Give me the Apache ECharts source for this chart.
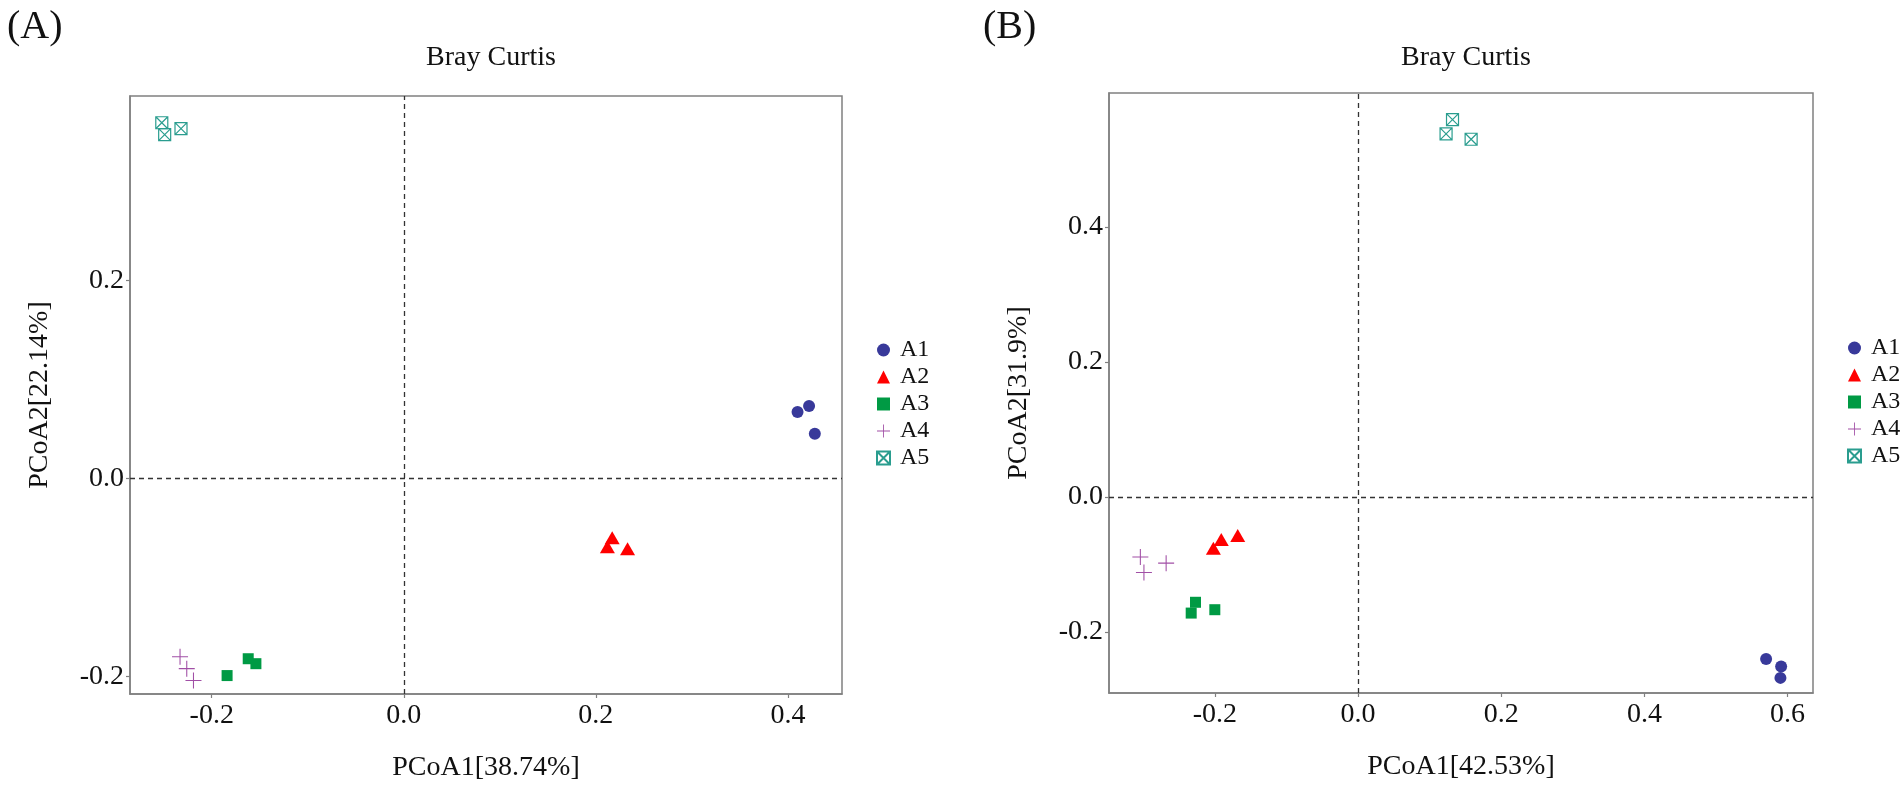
<!DOCTYPE html>
<html>
<head>
<meta charset="utf-8">
<script src="https://cdn.jsdelivr.net/npm/echarts@6.0.0/dist/echarts.min.js"></script>
<style>
  html, body { margin: 0; padding: 0; background: #fff; }
  #chart { width: 1902px; height: 790px; }
</style>
</head>
<body>
<div id="chart"></div>
<script>
// groups and values
var groups = ["A1", "A2", "A3", "A4", "A5"];

// panel (A): [PCoA1, PCoA2]
var a_A1 = [[0.410, 0.067], [0.422, 0.073], [0.428, 0.045]];
var a_A2 = [[0.217, -0.060], [0.212, -0.069], [0.233, -0.071]];
var a_A3 = [[-0.184, -0.199], [-0.162, -0.182], [-0.154, -0.187]];
var a_A4 = [[-0.233, -0.180], [-0.226, -0.192], [-0.219, -0.204]];
var a_A5 = [[-0.252, 0.359], [-0.249, 0.347], [-0.232, 0.353]];

// panel (B)
var b_A1 = [[0.570, -0.240], [0.591, -0.251], [0.590, -0.268]];
var b_A2 = [[-0.202, -0.076], [-0.191, -0.063], [-0.168, -0.057]];
var b_A3 = [[-0.233, -0.172], [-0.227, -0.156], [-0.200, -0.167]];
var b_A4 = [[-0.304, -0.089], [-0.299, -0.112], [-0.268, -0.098]];
var b_A5 = [[0.132, 0.559], [0.123, 0.538], [0.158, 0.530]];

var a_xTicks = [-0.2, 0.0, 0.2, 0.4];
var a_yTicks = [-0.2, 0.0, 0.2];
var b_xTicks = [-0.2, 0.0, 0.2, 0.4, 0.6];
var b_yTicks = [-0.2, 0.0, 0.2, 0.4];

var a_xName = "PCoA1[38.74%]";
var a_yName = "PCoA2[22.14%]";
var b_xName = "PCoA1[42.53%]";
var b_yName = "PCoA2[31.9%]";

var FONT = "Liberation Serif";
var AXIS_GRAY = "#808080";

var styles = {
  A1: { symbol: "circle", size: 12, color: "#38399A" },
  A2: { symbol: "triangle", size: [15, 13], color: "#FF0000" },
  A3: { symbol: "rect", size: 11, color: "#009A44" },
  A4: { symbol: "path://M7,0H8V7H15V8H8V15H7V8H0V7H7Z", size: 16, color: "#A14FA6" },
  A5: { symbol: "path://M0,0H10V10H0Z M0,0L10,10 M10,0L0,10", size: 12, color: "#2A9D8F", hollow: true }
};

function makeSeries(name, data, idx) {
  var st = styles[name];
  var itemStyle = st.hollow
    ? { color: "rgba(255,255,255,0)", borderColor: st.color, borderWidth: 1.2, opacity: 1 }
    : { color: st.color, opacity: 1 };
  return {
    name: name,
    type: "scatter",
    xAxisIndex: idx,
    yAxisIndex: idx,
    symbol: st.symbol,
    symbolSize: st.size,
    itemStyle: itemStyle,
    emphasis: { disabled: true },
    data: data
  };
}

function zeroLines() {
  return {
    silent: true,
    symbol: ["none", "none"],
    label: { show: false },
    lineStyle: { color: "#333", width: 1.3, type: [5, 4] },
    data: [{ xAxis: 0 }, { yAxis: 0 }]
  };
}

function xAxis(idx, min, max, ticks, name) {
  return {
    type: "value", gridIndex: idx, min: min, max: max,
    name: name, nameLocation: "middle", nameGap: 60,
    nameTextStyle: { fontFamily: FONT, fontSize: 28, color: "#111" },
    axisLine: { show: true, onZero: false, lineStyle: { color: AXIS_GRAY, width: 1.5 } },
    axisTick: { show: true, customValues: ticks, length: 4, lineStyle: { color: AXIS_GRAY, width: 1.2 } },
    axisLabel: { customValues: ticks, margin: 8, fontFamily: FONT, fontSize: 28, color: "#111",
      formatter: function (v) { return v.toFixed(1); } },
    splitLine: { show: false }
  };
}

function yAxis(idx, min, max, ticks, name) {
  return {
    type: "value", gridIndex: idx, min: min, max: max,
    name: name, nameLocation: "middle", nameGap: 76,
    nameTextStyle: { fontFamily: FONT, fontSize: 28, color: "#111" },
    axisLine: { show: true, onZero: false, lineStyle: { color: AXIS_GRAY, width: 1.5 } },
    axisTick: { show: true, customValues: ticks, length: 4, lineStyle: { color: AXIS_GRAY, width: 1.2 } },
    axisLabel: { customValues: ticks, margin: 6, fontFamily: FONT, fontSize: 28, color: "#111",
      formatter: function (v) { return v.toFixed(1); } },
    splitLine: { show: false }
  };
}

function legend(left, top) {
  return {
    orient: "vertical", left: left, top: top,
    itemWidth: 13, itemHeight: 13, itemGap: 3,
    data: groups,
    textStyle: { fontFamily: FONT, fontSize: 24, color: "#111", padding: [0, 0, 0, 5] }
  };
}

var series = [];
var aSets = [a_A1, a_A2, a_A3, a_A4, a_A5];
var bSets = [b_A1, b_A2, b_A3, b_A4, b_A5];
groups.forEach(function (g, i) {
  var s = makeSeries(g, aSets[i], 0);
  if (i === 0) s.markLine = zeroLines();
  series.push(s);
});
groups.forEach(function (g, i) {
  var s = makeSeries(g, bSets[i], 1);
  if (i === 0) s.markLine = zeroLines();
  series.push(s);
});

var chart = echarts.init(document.getElementById("chart"), null, { renderer: "canvas" });
var option = {
  animation: false,
  backgroundColor: "#fff",
  title: [
    { text: "(A)", left: 2, top: 2, textStyle: { fontFamily: FONT, fontSize: 40, fontWeight: "normal", color: "#111" } },
    { text: "(B)", left: 978, top: 2, textStyle: { fontFamily: FONT, fontSize: 40, fontWeight: "normal", color: "#111" } },
    { text: "Bray Curtis", left: 486, textAlign: "center", top: 39, textStyle: { fontFamily: FONT, fontSize: 28, fontWeight: "normal", color: "#111" } },
    { text: "Bray Curtis", left: 1461, textAlign: "center", top: 39, textStyle: { fontFamily: FONT, fontSize: 28, fontWeight: "normal", color: "#111" } }
  ],
  grid: [
    { left: 130, top: 96, width: 712, height: 598, show: true, borderColor: AXIS_GRAY, borderWidth: 1.5, backgroundColor: "transparent" },
    { left: 1109, top: 93, width: 704, height: 600, show: true, borderColor: AXIS_GRAY, borderWidth: 1.5, backgroundColor: "transparent" }
  ],
  legend: [legend(871, 333), legend(1842, 331)],
  xAxis: [
    xAxis(0, -0.2851, 0.4563, a_xTicks, a_xName),
    xAxis(1, -0.3478, 0.6355, b_xTicks, b_xName)
  ],
  yAxis: [
    yAxis(0, -0.2176, 0.386, a_yTicks, a_yName),
    yAxis(1, -0.2904, 0.5985, b_yTicks, b_yName)
  ],
  series: series
};
option && chart.setOption(option);
</script>
</body>
</html>
